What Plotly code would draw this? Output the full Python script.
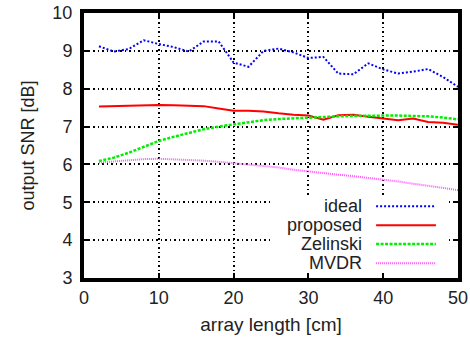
import plotly.graph_objects as go

x_cm = [2, 4, 6, 8, 10, 12, 14, 16, 18, 20, 22, 24, 26, 28, 30, 32, 34, 36, 38, 40, 42, 44, 46, 48, 50]
ideal = [9.12, 8.98, 9.05, 9.28, 9.18, 9.10, 8.98, 9.25, 9.25, 8.69, 8.58, 9.00, 9.06, 8.96, 8.81,
         8.84, 8.40, 8.38, 8.67, 8.51, 8.40, 8.45, 8.52, 8.31, 8.05]
proposed = [7.53, 7.54, 7.55, 7.56, 7.57, 7.56, 7.55, 7.54, 7.48, 7.42, 7.42, 7.40, 7.35, 7.31, 7.29,
            7.18, 7.30, 7.31, 7.26, 7.21, 7.17, 7.21, 7.12, 7.10, 7.05]
zelinski = [6.09, 6.18, 6.31, 6.46, 6.62, 6.73, 6.84, 6.93, 7.00, 7.06, 7.12, 7.17, 7.20, 7.22, 7.24,
            7.25, 7.27, 7.28, 7.29, 7.29, 7.29, 7.28, 7.27, 7.24, 7.19]
mvdr = [6.05, 6.08, 6.11, 6.14, 6.15, 6.14, 6.12, 6.10, 6.07, 6.03, 6.00, 5.97, 5.92, 5.86, 5.81,
        5.77, 5.73, 5.69, 5.65, 5.60, 5.55, 5.49, 5.44, 5.38, 5.32]

names = ["ideal", "proposed", "Zelinski", "MVDR"]
series = [ideal, proposed, zelinski, mvdr]
colors = ["#0000ff", "#ff0000", "#00ee00", "#ff55ff"]
widths = [2, 2, 2.5, 2]
dashes = ["2px,2px", "solid", "3px,1.5px", "1px,1px"]

x_ticks = [0, 10, 20, 30, 40, 50]
y_ticks = [3, 4, 5, 6, 7, 8, 9, 10]

FONT = "Liberation Sans, Arial, sans-serif"
TXT = "#222222"

fig = go.Figure()
for n, s, c, w, d in zip(names, series, colors, widths, dashes):
    fig.add_trace(go.Scatter(x=x_cm, y=s, mode="lines", name=n,
                             line=dict(color=c, width=w, dash=d), showlegend=False))

# white legend box hiding the grid
fig.add_shape(type="rect", xref="x", yref="y", x0=25, x1=48.5, y0=3.05, y1=5.15,
              fillcolor="white", line=dict(width=0), layer="between")

# gnuplot-style legend: text right-aligned, sample line on the right
leg_y = [0.271, 0.199, 0.128, 0.056]
for n, c, w, d, yy in zip(names, colors, widths, dashes, leg_y):
    fig.add_annotation(x=0.749, y=yy, xref="paper", yref="paper", text=n, showarrow=False,
                       xanchor="right", yanchor="middle",
                       font=dict(family=FONT, size=18, color=TXT))
    fig.add_shape(type="line", xref="paper", yref="paper", x0=0.781, x1=0.941, y0=yy, y1=yy,
                  line=dict(color=c, width=w, dash=d))

axis_common = dict(
    showline=True, linecolor="black", linewidth=4, mirror="allticks",
    ticks="inside", ticklen=5, tickwidth=2, tickcolor="black",
    showgrid=True, gridcolor="black", gridwidth=1.5, griddash="1.5px,3px",
    zeroline=False, tickfont=dict(family=FONT, size=18, color=TXT), automargin=False,
)

fig.update_xaxes(range=[0, 50], tickvals=x_ticks, ticktext=[str(v) for v in x_ticks],
                 title=dict(text="array length [cm]", font=dict(family=FONT, size=19, color=TXT), standoff=12),
                 **axis_common)
fig.update_yaxes(range=[3, 10], tickvals=y_ticks, ticktext=[str(v) for v in y_ticks],
                 title=dict(text="output SNR [dB]", font=dict(family=FONT, size=18, color=TXT), standoff=14),
                 ticklabelstandoff=4, **axis_common)

fig.update_layout(
    width=470, height=338,
    margin=dict(l=84, r=12, t=13, b=60, autoexpand=False),
    plot_bgcolor="white", paper_bgcolor="white",
    showlegend=False,
)

# remove the page's default 8px body margin so the figure sits at the window origin
fig.write_html("out.html", config={"displayModeBar": False},
               post_script="document.body.style.margin='0';")
